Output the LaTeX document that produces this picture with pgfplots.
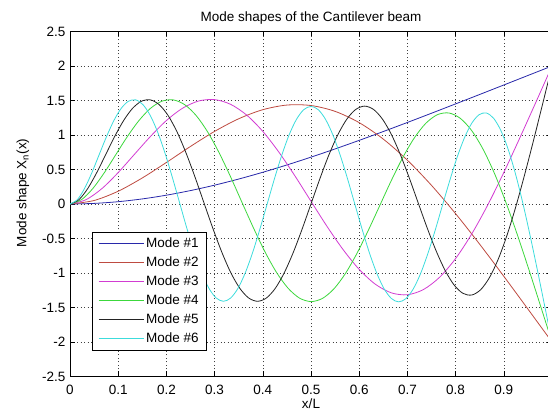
\documentclass[border=0pt]{standalone}
\usepackage{fontspec}
\setmainfont{Liberation Sans}
\usepackage{pgfplots}
\pgfplotsset{compat=1.18}

\definecolor{mblue}{RGB}{40,40,170}
\definecolor{mred}{RGB}{190,75,65}
\definecolor{mmag}{RGB}{210,60,210}
\definecolor{mgreen}{RGB}{60,215,60}
\definecolor{mblack}{RGB}{35,35,35}
\definecolor{mcyan}{RGB}{60,220,220}

\newcommand{\mfont}{\fontsize{13.5bp}{16bp}\selectfont}

\begin{document}
\begin{tikzpicture}[font=\mfont]
\useasboundingbox (0,0) rectangle (548bp,410bp);
\begin{axis}[
  at={(70bp,33.5bp)}, anchor=south west,
  scale only axis, width=482bp, height=345bp,
  xmin=0, xmax=1, ymin=-2.5, ymax=2.5,
  xtick={0,0.1,0.2,0.3,0.4,0.5,0.6,0.7,0.8,0.9},
  ytick={-2.5,-2,-1.5,-1,-0.5,0,0.5,1,1.5,2,2.5},
  /pgf/number format/assume math mode=true,
  tick label style={font=\mfont},
  xticklabel style={anchor=base, yshift=-18.4bp},
  yticklabel style={inner xsep=4.5bp},
  tick align=inside, major tick length=5bp,
  tick style={black, line width=0.6bp},
  axis line style={black, line width=0.6bp},
  grid=major,
  major grid style={black!75, line width=0.6bp, dash pattern=on 1bp off 2.5bp},
  title={Mode shapes of the Cantilever beam},
  every axis title shift=0pt,
  title style={font=\mfont, at={(axis description cs:0.5,1.0278)}, anchor=base},
  xlabel={x/L},
  xlabel style={font=\mfont, at={(axis description cs:0.5,-0.0783)}, anchor=center},
  ylabel={Mode shape X\textsubscript{n}(x)},
  ylabel style={font=\mfont, at={(axis description cs:-0.0975,0.532)}, anchor=center},
  no markers,
  every axis plot/.append style={line width=0.8bp, smooth},
  legend cell align=left,
  legend style={at={(rel axis cs:0.045,0.4197)}, anchor=north west,
    draw=black, line width=0.5bp, font=\mfont,
    inner xsep=6bp, inner ysep=2bp, row sep=0pt,
    nodes={inner xsep=1.5bp, inner ysep=1bp, text height=12.5bp, text depth=4.5bp}},
  legend image code/.code={
    \draw[#1, line width=0.8bp] (0.8bp,0bp) -- (45.8bp,0bp);
    \pgfpathrectangle{\pgfpoint{0bp}{-1bp}}{\pgfpoint{46.8bp}{2bp}}\pgfusepath{}
  },
]
\addplot[color=mblue, draw=mblue] coordinates {
(0,0) (0.05,0.0086) (0.1,0.0335) (0.15,0.0737) (0.2,0.1277) (0.25,0.1946)
(0.3,0.2730) (0.35,0.3617) (0.4,0.4598) (0.45,0.5659) (0.5,0.6790)
(0.55,0.7982) (0.6,0.9223) (0.65,1.0504) (0.7,1.1817) (0.75,1.3155)
(0.8,1.4510) (0.85,1.5875) (0.9,1.7248) (0.95,1.8624) (1,2.0000)};
\addlegendentry{Mode \#1}
\addplot[color=mred, draw=mred] coordinates {
(0,0) (0.05,0.0507) (0.1,0.1853) (0.15,0.3776) (0.2,0.6021) (0.25,0.8345)
(0.3,1.0523) (0.35,1.2354) (0.4,1.3668) (0.45,1.4339) (0.5,1.4273)
(0.55,1.3425) (0.6,1.1790) (0.65,0.9404) (0.7,0.6341) (0.75,0.2700)
(0.8,-0.1401) (0.85,-0.5833) (0.9,-1.0475) (0.95,-1.5222) (1,-2.0000)};
\addlegendentry{Mode \#2}
\addplot[color=mmag, draw=mmag] coordinates {
(0,0) (0.0333,0.0626) (0.0667,0.2264) (0.1,0.4559) (0.1333,0.7169) (0.1667,0.9772)
(0.2,1.2097) (0.2333,1.3872) (0.2667,1.4923) (0.3,1.5131) (0.3333,1.4443)
(0.3667,1.2878) (0.4,1.0522) (0.4333,0.7520) (0.4667,0.4068) (0.5,0.0394)
(0.5333,-0.3253) (0.5667,-0.6622) (0.6,-0.9478) (0.6333,-1.1617) (0.6667,-1.2878)
(0.7,-1.3153) (0.7333,-1.2397) (0.7667,-1.0623) (0.8,-0.7903) (0.8333,-0.4356)
(0.8667,-0.0140) (0.9,0.4568) (0.9333,0.9591) (0.9667,1.4773) (1,2.0000)};
\addlegendentry{Mode \#3}
\addplot[color=mgreen, draw=mgreen] coordinates {
(0,0) (0.0238,0.0626) (0.0476,0.2264) (0.0714,0.4559) (0.0952,0.7169) (0.1190,0.9772)
(0.1429,1.2079) (0.1667,1.3847) (0.1905,1.4892) (0.2143,1.5090) (0.2381,1.4390)
(0.2619,1.2809) (0.2857,1.0432) (0.3095,0.7404) (0.3333,0.3916) (0.3571,0.0189)
(0.3810,-0.3520) (0.4048,-0.6969) (0.4286,-0.9929) (0.4524,-1.2203) (0.4762,-1.3639)
(0.5,-1.4142) (0.5238,-1.3682) (0.5476,-1.2292) (0.5714,-1.0071) (0.5952,-0.7173)
(0.6190,-0.3801) (0.6429,-0.0189) (0.6667,0.3411) (0.6905,0.6744) (0.7143,0.9572)
(0.7381,1.1689) (0.7619,1.2933) (0.7857,1.3196) (0.8095,1.2429) (0.8333,1.0647)
(0.8571,0.7921) (0.8810,0.4370) (0.9048,0.0151) (0.9286,-0.4559) (0.9524,-0.9584)
(0.9762,-1.4768) (1,-2.0000)};
\addlegendentry{Mode \#4}
\addplot[color=mblack, draw=mblack] coordinates {
(0,0) (0.0185,0.0626) (0.0370,0.2264) (0.0556,0.4559) (0.0741,0.7169) (0.0926,0.9772)
(0.1111,1.2079) (0.1296,1.3847) (0.1481,1.4892) (0.1667,1.5090) (0.1852,1.4390)
(0.2037,1.2809) (0.2222,1.0432) (0.2407,0.7404) (0.2593,0.3916) (0.2778,0.0197)
(0.2963,-0.3509) (0.3148,-0.6954) (0.3333,-0.9910) (0.3519,-1.2178) (0.3704,-1.3607)
(0.3889,-1.4101) (0.4074,-1.3629) (0.4259,-1.2223) (0.4444,-0.9981) (0.4630,-0.7057)
(0.4815,-0.3649) (0.5,0.0017) (0.5185,0.3678) (0.5370,0.7090) (0.5556,1.0023)
(0.5741,1.2275) (0.5926,1.3694) (0.6111,1.4185) (0.6296,1.3713) (0.6481,1.2317)
(0.6667,1.0090) (0.6852,0.7188) (0.7037,0.3812) (0.7222,0.0197) (0.7407,-0.3404)
(0.7593,-0.6738) (0.7778,-0.9568) (0.7963,-1.1686) (0.8148,-1.2931) (0.8333,-1.3194)
(0.8519,-1.2429) (0.8704,-1.0647) (0.8889,-0.7921) (0.9074,-0.4370) (0.9259,-0.0151)
(0.9444,0.4559) (0.9630,0.9584) (0.9815,1.4768) (1,2.0000)};
\addlegendentry{Mode \#5}
\addplot[color=mcyan, draw=mcyan] coordinates {
(0,0) (0.0152,0.0626) (0.0303,0.2264) (0.0455,0.4559) (0.0606,0.7169) (0.0758,0.9772)
(0.0909,1.2079) (0.1061,1.3847) (0.1212,1.4892) (0.1364,1.5090) (0.1515,1.4390)
(0.1667,1.2809) (0.1818,1.0432) (0.1970,0.7404) (0.2121,0.3916) (0.2273,0.0197)
(0.2424,-0.3509) (0.2576,-0.6954) (0.2727,-0.9910) (0.2879,-1.2178) (0.3030,-1.3607)
(0.3182,-1.4101) (0.3333,-1.3629) (0.3485,-1.2223) (0.3636,-0.9981) (0.3788,-0.7057)
(0.3939,-0.3649) (0.4091,0.0009) (0.4242,0.3667) (0.4394,0.7076) (0.4545,1.0004)
(0.4697,1.2250) (0.4848,1.3663) (0.5,1.4144) (0.5152,1.3662) (0.5303,1.2249)
(0.5455,0.9997) (0.5606,0.7066) (0.5758,0.3654) (0.5909,-0.0009) (0.6061,-0.3671)
(0.6212,-0.7085) (0.6364,-1.0019) (0.6515,-1.2272) (0.6667,-1.3692) (0.6818,-1.4183)
(0.6970,-1.3713) (0.7121,-1.2317) (0.7273,-1.0090) (0.7424,-0.7188) (0.7576,-0.3812)
(0.7727,-0.0197) (0.7879,0.3404) (0.8030,0.6738) (0.8182,0.9568) (0.8333,1.1686)
(0.8485,1.2931) (0.8636,1.3194) (0.8788,1.2429) (0.8939,1.0647) (0.9091,0.7921)
(0.9242,0.4370) (0.9394,0.0151) (0.9545,-0.4559) (0.9697,-0.9584) (0.9848,-1.4768)
(1,-2.0000)};
\addlegendentry{Mode \#6}
\end{axis}
\end{tikzpicture}
\end{document}
